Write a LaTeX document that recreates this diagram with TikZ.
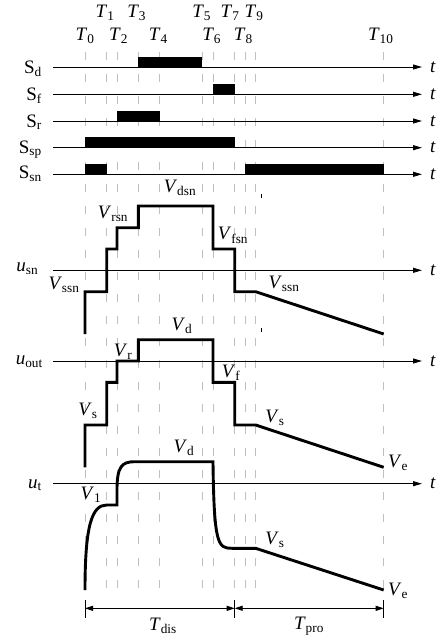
\documentclass[tikz,border=0pt]{standalone}
\usepackage{fontspec}
\setmainfont{Liberation Serif}
\usetikzlibrary{arrows.meta}
\newcommand{\iv}[2]{\textit{#1}\textsubscript{#2}}
\newcommand{\rv}[2]{#1\textsubscript{#2}}
\begin{document}
\begin{tikzpicture}[x=1pt,y=-1pt,
  font=\fontsize{19}{22}\selectfont,
  axisline/.style={line width=0.9pt,-{Triangle[length=9pt,width=5pt]}},
  gridline/.style={draw=black!25,line width=0.9pt,dash pattern=on 8pt off 14pt},
  wave/.style={line width=2.9pt,line join=miter},
  bar/.style={fill=black},
  lbl/.style={inner sep=0pt},
  tick/.style={line width=0.9pt},
  dimline/.style={line width=0.9pt,{Triangle[length=8pt,width=5pt]}-{Triangle[length=8pt,width=5pt]}},
]
\useasboundingbox (0,0) rectangle (444,641);
% grid lines
\foreach \x in {85,106.7,117,138.3,159.7,202.3,213,234.7,245,255.7,383.7}
  \draw[gridline] (\x,52) -- (\x,598);
% axes
\foreach \y/\n in {67/a,94.3/b,121/c,147.7/d,174.3/e,270.3/f,361/g,483.7/h}{
  \coordinate (s\n) at (53,\y);
  \coordinate (e\n) at (422,\y);
  \draw[axisline] (s\n) -- (e\n);
  \node[lbl,anchor=west] (t\n) at (430,\y) {\textit{t}};
}
% time labels
\node[lbl] (T0) at (85,35.5) {\iv{T}{0}};
\node[lbl] (T1) at (105,12.5) {\iv{T}{1}};
\node[lbl] (T2) at (118.5,35.5) {\iv{T}{2}};
\node[lbl] (T3) at (136.7,12.5) {\iv{T}{3}};
\node[lbl] (T4) at (158.3,35.5) {\iv{T}{4}};
\node[lbl] (T5) at (201.7,12.5) {\iv{T}{5}};
\node[lbl] (T6) at (211.7,35.5) {\iv{T}{6}};
\node[lbl] (T7) at (230,12.5) {\iv{T}{7}};
\node[lbl] (T8) at (243.3,35.5) {\iv{T}{8}};
\node[lbl] (T9) at (254,12.5) {\iv{T}{9}};
\node[lbl] (T10) at (380.8,35.5) {\iv{T}{10}};
% signal labels
\node[lbl,anchor=base east] (Sd) at (42,73) {\rv{S}{d}};
\node[lbl,anchor=base east] (Sf) at (42,100.3) {\rv{S}{f}};
\node[lbl,anchor=base east] (Sr) at (42,127) {\rv{S}{r}};
\node[lbl,anchor=base east] (Ssp) at (42,153.2) {\rv{S}{sp}};
\node[lbl,anchor=base east] (Ssn) at (42,178.5) {\rv{S}{sn}};
\node[lbl,anchor=base east] (usn) at (38.5,271.5) {\iv{u}{sn}};
\node[lbl,anchor=base east] (uout) at (43,364.5) {\iv{u}{out}};
\node[lbl,anchor=base east] (ut) at (42,488) {\iv{u}{t}};
% bars
\fill[bar] (138.3,57) rectangle (202.3,67);
\fill[bar] (213,84) rectangle (234.7,94.3);
\fill[bar] (117,110.5) rectangle (159.7,121);
\fill[bar] (85,136.7) rectangle (234.7,147.7);
\fill[bar] (85,164) rectangle (106.7,174.3);
\fill[bar] (245,164) rectangle (383.7,174.3);
% u_sn
\draw[wave] (85,334) -- (85,291.7) -- (106.7,291.7) -- (106.7,249) -- (117,249) -- (117,227.7) -- (138.3,227.7) -- (138.3,206) -- (213,206) -- (213,249) -- (234.7,249) -- (234.7,291.7) -- (255.7,291.7) -- (383.7,334);
% u_out
\draw[wave] (85,467.3) -- (85,425) -- (106.7,425) -- (106.7,382.3) -- (117,382.3) -- (117,361) -- (138.3,361) -- (138.3,339.7) -- (213,339.7) -- (213,382.3) -- (234.7,382.3) -- (234.7,425) -- (255.7,425) -- (383.7,467.3);
% u_t
\draw[wave] (85,590) .. controls (85,525) and (92,505) .. (106.7,505) -- (117,505) -- (117,490) .. controls (117,466) and (122,461.7) .. (135,461.7) -- (213,461.7) .. controls (214,545) and (218,548.3) .. (232,548.3) -- (255.7,548.3) -- (383.7,590);
% value labels
\node[lbl] (Vdsn) at (180,188) {\iv{V}{dsn}};
\node[lbl] (Vrsn) at (113,214) {\iv{V}{rsn}};
\node[lbl] (Vfsn) at (233,235.5) {\iv{V}{fsn}};
\node[lbl] (Vssn1) at (64,285) {\iv{V}{ssn}};
\node[lbl] (Vssn2) at (284,284) {\iv{V}{ssn}};
\node[lbl] (Vd1) at (182,326) {\iv{V}{d}};
\node[lbl] (Vr) at (123,352) {\iv{V}{r}};
\node[lbl] (Vf) at (231,373) {\iv{V}{f}};
\node[lbl] (Vs1) at (88,411) {\iv{V}{s}};
\node[lbl] (Vs2) at (275,418) {\iv{V}{s}};
\node[lbl] (Ve1) at (398,463) {\iv{V}{e}};
\node[lbl] (Vd2) at (184,448) {\iv{V}{d}};
\node[lbl] (V1) at (91,495) {\iv{V}{1}};
\node[lbl] (Vs3) at (275,540) {\iv{V}{s}};
\node[lbl] (Ve2) at (398,591) {\iv{V}{e}};
% stray marks
\draw[tick] (261,194) -- (261,197.5);
\draw[tick] (261,328) -- (261,331.7);
% dimension lines
\coordinate (d0) at (85,608.3);
\coordinate (d7) at (234.7,608.3);
\coordinate (d10) at (383.7,608.3);
\draw[tick] (85,600) -- (85,618);
\draw[tick] (234.7,600) -- (234.7,618);
\draw[tick] (383.7,600) -- (383.7,618);
\draw[dimline] (d0) -- (d7);
\draw[dimline] (d7) -- (d10);
\node[lbl] (Tdis) at (163,626) {\iv{T}{dis}};
\node[lbl] (Tpro) at (309,626) {\iv{T}{pro}};
\end{tikzpicture}
\end{document}
